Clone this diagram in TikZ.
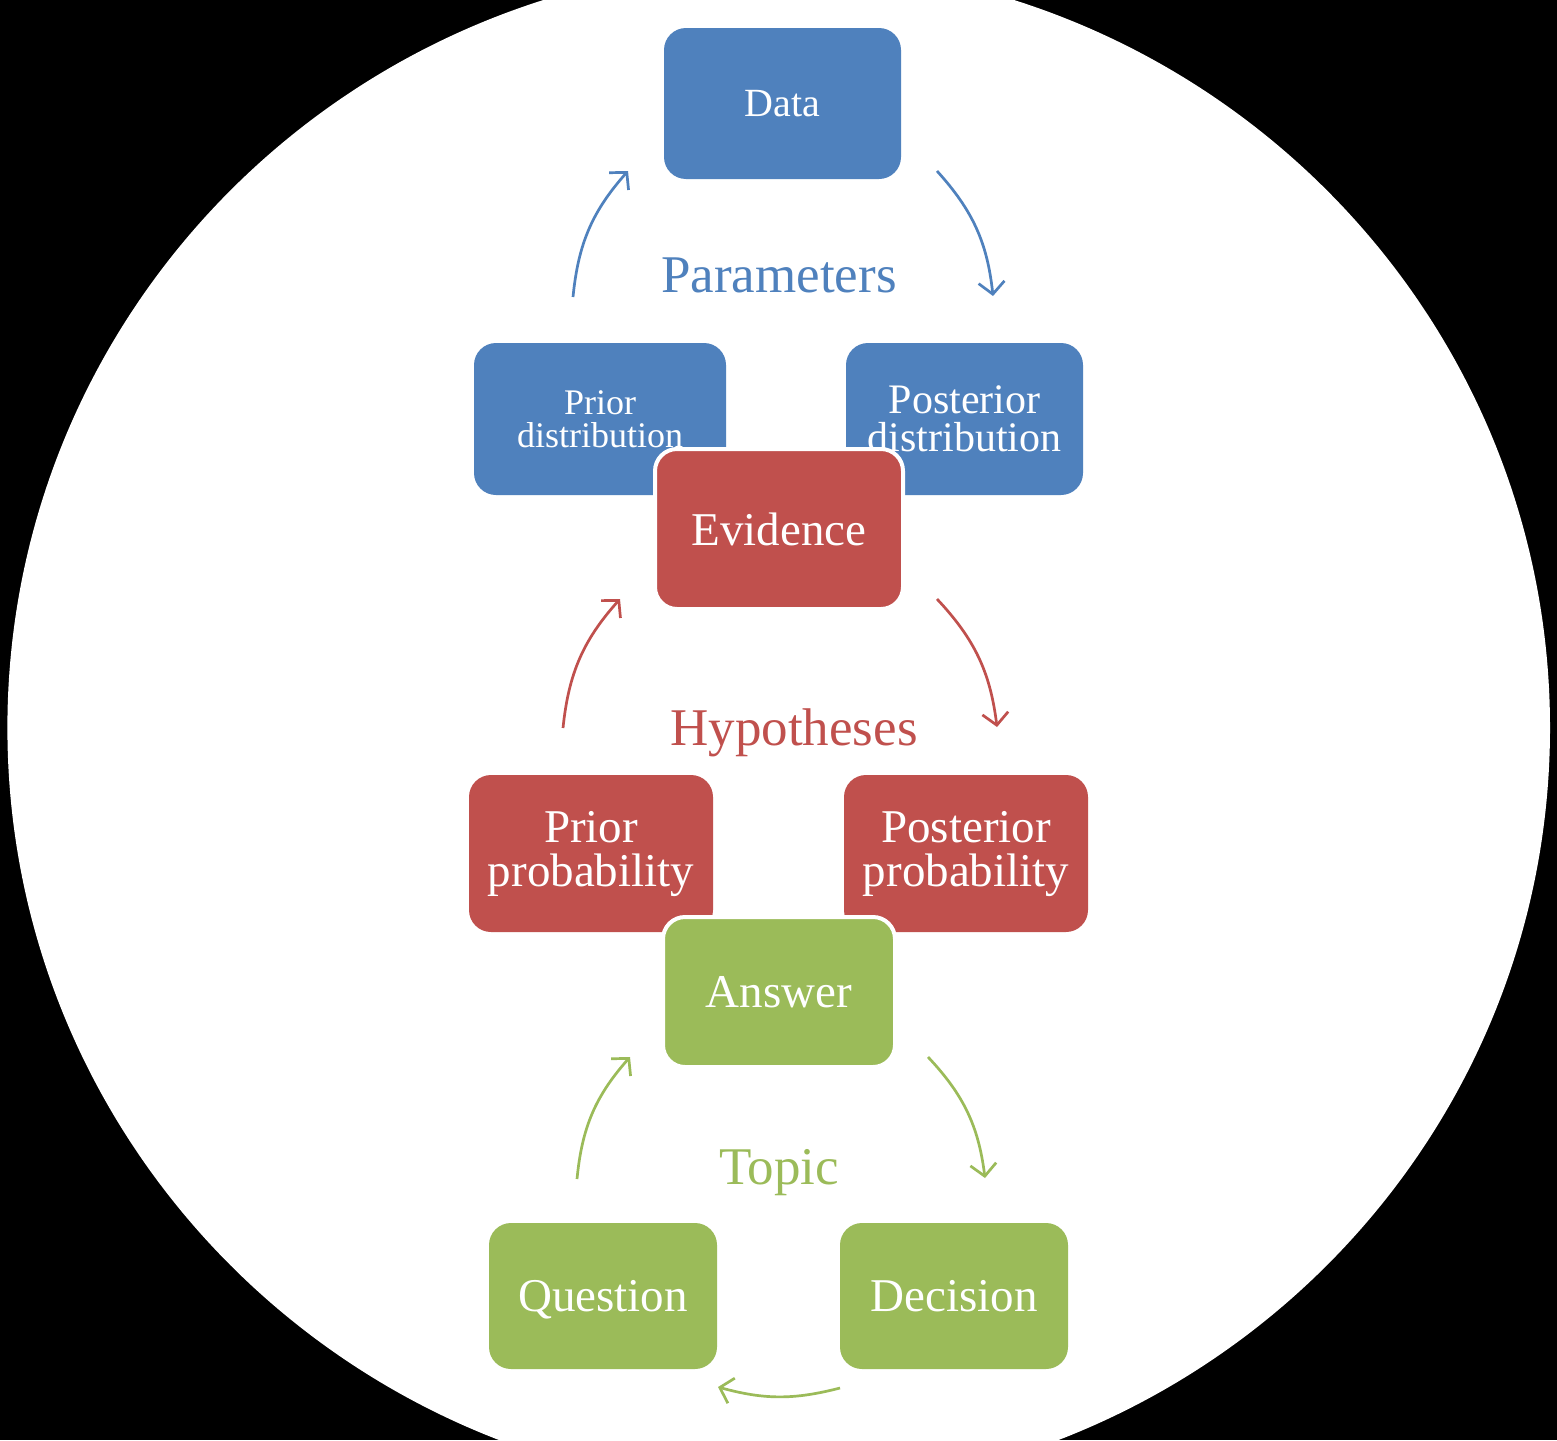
\documentclass[tikz,border=0pt]{standalone}
\usepackage{fontspec}
\setmainfont{Liberation Serif}
\usetikzlibrary{arrows.meta}
\definecolor{cblue}{HTML}{4F81BD}
\definecolor{cred}{HTML}{C0504D}
\definecolor{cgreen}{HTML}{9BBB59}
\begin{document}
\begin{tikzpicture}[x=1pt,y=-1pt,
  box/.style={rounded corners=22pt, inner sep=0pt, text=white, align=center,
    font=\fontsize{47}{44}\selectfont},
  ringbox/.style={box, draw=white, line width=4pt},
  cyc/.style={line width=2.7pt, -{Straight Barb[length=12pt,width=26pt]}, bend left=18},
  lbl/.style={anchor=base, inner sep=0pt, font=\fontsize{53}{53}\selectfont}]
\useasboundingbox (0,0) rectangle (1557,1440);
\begin{scope}
  \clip (0,0) rectangle (1557,1440);
  \fill[black] (0,0) rectangle (1557,1440);
  \fill[white] (778.7,727.8) ellipse [x radius=771.3, y radius=764];
\end{scope}
% blue cycle
\node[box, fill=cblue, minimum width=237pt, minimum height=151pt,
  font=\fontsize{40}{38}\selectfont] (data) at (782.5,103.5) {Data};
\node[box, fill=cblue, minimum width=252pt, minimum height=152pt,
  font=\fontsize{36}{33}\selectfont] (pdist) at (600,419) {Prior\\distribution};
\node[box, fill=cblue, minimum width=237pt, minimum height=152pt,
  font=\fontsize{42}{38}\selectfont] (qdist) at (964.5,419) {Posterior\\distribution};
\node[lbl, text=cblue] (params) at (779,292) {Parameters};
\coordinate (b1s) at (573,297);
\coordinate (b1e) at (628,171);
\coordinate (b2s) at (937,171);
\coordinate (b2e) at (993,296);
\draw[cyc, cblue] (b1s) to (b1e);
\draw[cyc, cblue] (b2s) to (b2e);
% red cycle
\node[ringbox, fill=cred, minimum width=248pt, minimum height=160pt] (evid) at (779,529) {Evidence};
\node[box, fill=cred, minimum width=244pt, minimum height=157pt] (pprob) at (591,853.5) {Prior\\probability};
\node[box, fill=cred, minimum width=244pt, minimum height=157pt] (qprob) at (966,853.5) {Posterior\\probability};
\node[lbl, text=cred] (hyp) at (794,745) {Hypotheses};
\coordinate (r1s) at (563,728);
\coordinate (r1e) at (620,599);
\coordinate (r2s) at (937,599);
\coordinate (r2e) at (997,727);
\draw[cyc, cred] (r1s) to (r1e);
\draw[cyc, cred] (r2s) to (r2e);
% green cycle
\node[ringbox, fill=cgreen, minimum width=232pt, minimum height=150pt] (ans) at (779,992) {Answer};
\node[box, fill=cgreen, minimum width=228pt, minimum height=146pt, text depth=0pt] (quest) at (603,1296) {Question};
\node[box, fill=cgreen, minimum width=228pt, minimum height=146pt] (deci) at (954,1296) {Decision};
\node[lbl, text=cgreen] (topic) at (779,1184) {Topic};
\coordinate (g1s) at (577,1179);
\coordinate (g1e) at (630,1057);
\coordinate (g2s) at (928,1057);
\coordinate (g2e) at (985,1178);
\coordinate (g3s) at (840,1388);
\coordinate (g3e) at (718,1387);
\draw[cyc, cgreen] (g1s) to (g1e);
\draw[cyc, cgreen] (g2s) to (g2e);
\draw[cyc, cgreen, bend left=15] (g3s) to (g3e);
\end{tikzpicture}
\end{document}
